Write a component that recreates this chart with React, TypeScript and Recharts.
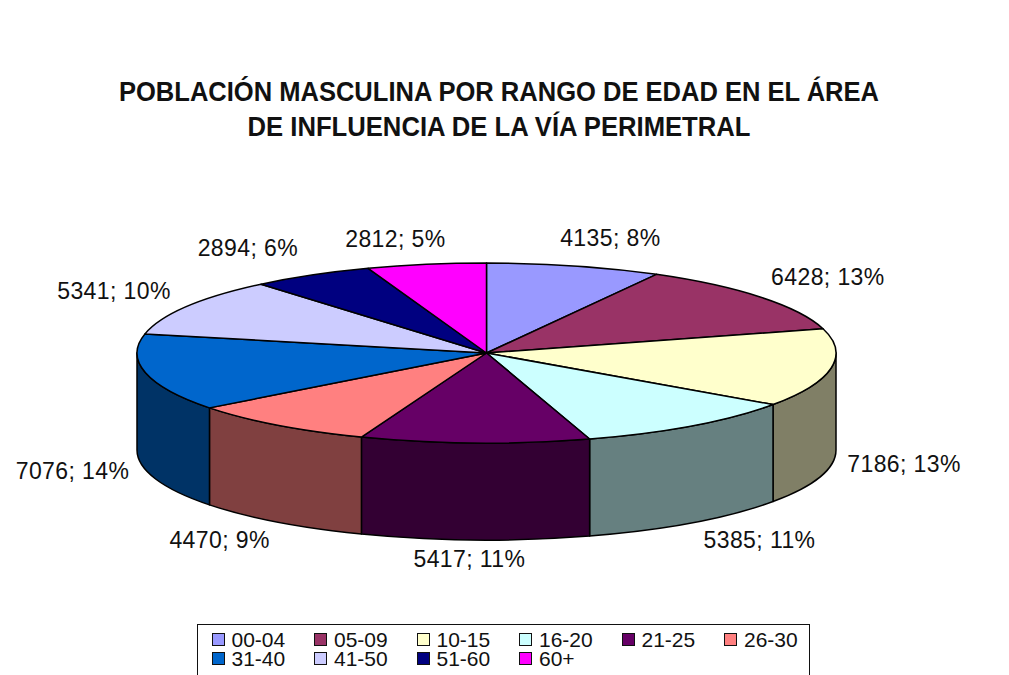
import * as React from 'react';
import { Legend, Pie, PieChart } from 'recharts';

const ageRanges = ['00-04', '05-09', '10-15', '16-20', '21-25', '26-30', '31-40', '41-50', '51-60', '60+'];
const population = [4135, 6428, 7186, 5385, 5417, 4470, 7076, 5341, 2894, 2812];
// percentages as printed in the source chart (they don't all round the same way)
const shares = [8, 13, 13, 11, 11, 9, 14, 10, 6, 5];
const topColors = ['#9999FF', '#993366', '#FFFFCC', '#CCFFFF', '#660066', '#FF8080', '#0066CC', '#CCCCFF', '#000080', '#FF00FF'];
const sideColors = ['#4C4C80', '#4C1933', '#807F66', '#668080', '#330033', '#804040', '#003366', '#666680', '#000040', '#800080'];
const titleLines = ['POBLACIÓN MASCULINA POR RANGO DE EDAD EN EL ÁREA', 'DE INFLUENCIA DE LA VÍA PERIMETRAL'];
// hand placement of each data label, relative to its point on the rim
const labelNudge = [[36, -27.5], [67, -20.5], [73, -1.5], [67, 17], [-5.5, 19.5], [-58, 18], [-73, 1.5], [-73, -15.5], [-64, -27], [-31, -25]];

const CX = 486.5;
const CY = 353;
const RX = 349.5;
const RY = 90;
const DEPTH = 97;

const tableData = ageRanges.map((name, i) => ({ name, value: population[i], fill: topColors[i] }));

const rimX = (deg: number) => CX + RX * Math.cos((deg * Math.PI) / 180);
const rimY = (deg: number) => CY - RY * Math.sin((deg * Math.PI) / 180);

// recharts only knows round pies, so the sector angles get drawn on a flattened ellipse.
// the wall only shows on the front half, and never overlaps another slice's top
const Slice3D = (props: any) => {
  const { startAngle, endAngle, fill, index } = props;
  const top = `M${CX},${CY} L${rimX(startAngle)},${rimY(startAngle)} A${RX},${RY} 0 0 1 ${rimX(endAngle)},${rimY(endAngle)} Z`;
  const from = Math.min(startAngle, 0);
  const to = Math.max(endAngle, -180);
  const wall =
    from > to
      ? `M${rimX(from)},${rimY(from)} A${RX},${RY} 0 0 1 ${rimX(to)},${rimY(to)} ` +
        `L${rimX(to)},${rimY(to) + DEPTH} A${RX},${RY} 0 0 0 ${rimX(from)},${rimY(from) + DEPTH} Z`
      : null;
  return (
    <g stroke="#000" strokeWidth={1.5} strokeLinejoin="round">
      {wall && <path d={wall} fill={sideColors[index]} />}
      <path d={top} fill={fill} />
    </g>
  );
};

const SliceLabel = (props: any) => {
  const { midAngle, index, value } = props;
  const [dx, dy] = labelNudge[index];
  const front = Math.sin((midAngle * Math.PI) / 180) < 0;
  return (
    <text
      x={rimX(midAngle) + dx}
      y={rimY(midAngle) + (front ? DEPTH : 0) + dy}
      textAnchor="middle"
      dominantBaseline="central"
      fontFamily="Liberation Sans"
      fontSize={23}
      letterSpacing={0.4}
      fill="#111"
    >
      {`${value}; ${shares[index]}%`}
    </text>
  );
};

const LegendBox = ({ payload }: any) => (
  <div
    style={{
      boxSizing: 'border-box',
      width: 613,
      height: 52,
      border: '1.5px solid #111',
      borderBottom: 'none',
      background: '#fff',
      padding: '4.5px 0 0 13.5px',
      display: 'grid',
      gridTemplateColumns: 'repeat(6, 102.5px)',
      gridAutoRows: 19.5,
      fontFamily: 'Liberation Sans',
      fontSize: 21,
      lineHeight: '19.5px',
      color: '#111',
    }}
  >
    {(payload ?? []).map((item: any) => (
      <div key={item.value} style={{ display: 'flex', alignItems: 'center' }}>
        <span
          style={{
            boxSizing: 'border-box',
            width: 13,
            height: 13,
            marginRight: 7,
            border: '1.5px solid #111',
            background: item.color,
          }}
        />
        {item.value}
      </div>
    ))}
  </div>
);

export default function App() {
  return (
    <div style={{ position: 'absolute', left: 0, top: 0, width: 1009, height: 675, overflow: 'hidden', background: '#fff' }}>
      <PieChart width={1009} height={675} margin={{ top: 0, right: 0, bottom: 0, left: 0 }}>
        <Pie
          data={tableData}
          dataKey="value"
          nameKey="name"
          cx={CX}
          cy={CY}
          outerRadius={RX}
          startAngle={90}
          endAngle={-270}
          shape={Slice3D}
          label={SliceLabel}
          labelLine={false}
          isAnimationActive={false}
        />
        <text x={499} y={101} textAnchor="middle" textLength={760} lengthAdjust="spacingAndGlyphs" fontFamily="Liberation Sans" fontWeight="bold" fontSize={27} fill="#111">
          {titleLines[0]}
        </text>
        <text x={499} y={135.5} textAnchor="middle" textLength={503} lengthAdjust="spacingAndGlyphs" fontFamily="Liberation Sans" fontWeight="bold" fontSize={27} fill="#111">
          {titleLines[1]}
        </text>
        <Legend content={LegendBox} wrapperStyle={{ left: 197, top: 624, width: 613, height: 52 }} />
      </PieChart>
    </div>
  );
}
